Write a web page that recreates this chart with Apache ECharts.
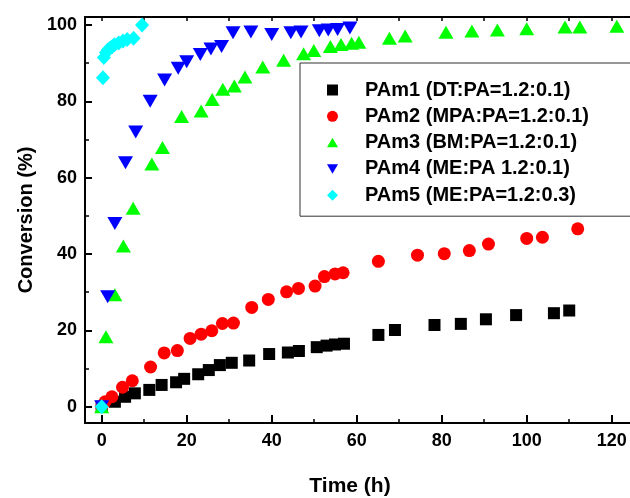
<!DOCTYPE html>
<html>
<head>
<meta charset="utf-8">
<script src="https://cdn.jsdelivr.net/npm/echarts@6/dist/echarts.min.js"></script>
<style>
  html, body { margin: 0; padding: 0; background: #fff; }
  #chart { width: 630px; height: 498px; }
</style>
</head>
<body>
<div id="chart"></div>
<script>
// Conversion (%) versus reaction time (h) for five PAm formulations
const seriesNames = [
  'PAm1 (DT:PA=1.2:0.1)',
  'PAm2 (MPA:PA=1.2:0.1)',
  'PAm3 (BM:PA=1.2:0.1)',
  'PAm4 (ME:PA 1.2:0.1)',
  'PAm5 (ME:PA=1.2:0.3)'
];

const pam1Time = [0, 3.1, 5.5, 7.8, 11.2, 14.1, 17.5, 19.4, 22.7, 25.2, 27.8, 30.6, 34.7, 39.4, 43.8, 46.4, 50.6, 52.9, 54.9, 57.0, 65.1, 69.0, 78.3, 84.5, 90.4, 97.5, 106.4, 110.0];
const pam1Conv = [0, 1.3, 2.6, 3.5, 4.4, 5.7, 6.4, 7.3, 8.5, 9.6, 10.9, 11.5, 12.1, 13.8, 14.2, 14.6, 15.6, 16.0, 16.3, 16.5, 18.8, 20.1, 21.4, 21.7, 22.9, 24.0, 24.5, 25.2];

const pam2Time = [0, 0.8, 2.4, 4.9, 7.2, 11.5, 14.7, 17.8, 20.8, 23.4, 25.9, 28.4, 31.0, 35.3, 39.2, 43.5, 46.3, 50.2, 52.4, 54.9, 56.8, 65.1, 74.3, 80.6, 86.5, 91.0, 100.0, 103.7, 112.0];
const pam2Conv = [0, 1.3, 2.6, 5.1, 6.8, 10.4, 14.1, 14.7, 17.9, 19.0, 19.9, 21.8, 21.9, 26.0, 28.1, 30.1, 31.0, 31.6, 34.1, 34.8, 35.1, 38.1, 39.7, 40.1, 40.9, 42.6, 44.1, 44.4, 46.6];

const pam3Time = [0, 1.0, 3.1, 5.1, 7.4, 11.8, 14.3, 18.8, 23.4, 26.0, 28.5, 31.2, 33.7, 37.9, 42.8, 47.5, 49.9, 53.8, 56.3, 58.8, 60.5, 67.7, 71.4, 81.0, 87.1, 93.1, 100.0, 109.0, 112.5, 121.2];
const pam3Conv = [0, 18.3, 29.3, 42.1, 52.0, 63.6, 67.9, 76.0, 77.5, 80.5, 83.2, 84.0, 86.4, 89.0, 90.8, 92.5, 93.3, 94.4, 94.9, 95.2, 95.5, 96.5, 97.1, 98.1, 98.4, 98.7, 99.0, 99.5, 99.5, 99.7];

const pam4Time = [0, 1.4, 3.1, 5.6, 8.0, 11.4, 14.8, 18.0, 20.0, 23.2, 25.7, 28.2, 30.9, 35.1, 40.0, 44.5, 46.9, 51.2, 53.3, 55.5, 58.4];
const pam4Conv = [0, 28.8, 48.0, 63.9, 72.0, 80.0, 85.6, 88.7, 90.4, 92.3, 93.7, 94.4, 98.0, 98.2, 97.5, 98.0, 98.2, 98.5, 98.7, 98.8, 99.2];

const pam5Time = [0, 0.3, 0.5, 1.0, 1.5, 2.0, 2.5, 3.0, 4.0, 5.0, 6.0, 7.5, 9.5];
const pam5Conv = [0, 86.2, 91.5, 92.8, 93.5, 94.0, 94.4, 94.8, 95.3, 95.8, 96.2, 96.5, 100.0];

const xMajorTicks = [0, 20, 40, 60, 80, 100, 120];
const xMinorTicks = [10, 30, 50, 70, 90, 110];
const yMajorTicks = [0, 20, 40, 60, 80, 100];
const yMinorTicks = [10, 30, 50, 70, 90];

const FONT = '"Liberation Sans", Arial, Helvetica, sans-serif';
const X_MIN = -3.93, X_MAX = 124.3;
const Y_MIN = -4.27, Y_MAX = 102.1;

const pairs = (xs, ys) => xs.map((x, i) => [x, ys[i]]);

const downTriangle = 'path://M0,0L2,0L1,1.732Z';
const upTriangle = 'path://M1,0L2,1.732L0,1.732Z';

const markers = [
  { symbol: 'rect', size: 12, legendSize: 10, color: '#000000', data: pairs(pam1Time, pam1Conv) },
  { symbol: 'circle', size: 13, legendSize: 11, color: '#ff0000', data: pairs(pam2Time, pam2Conv) },
  { symbol: 'triangle', legendIcon: upTriangle, size: [15, 13], color: '#00ff00', data: pairs(pam3Time, pam3Conv) },
  { symbol: downTriangle, size: [15, 13], color: '#0000ff', data: pairs(pam4Time, pam4Conv) },
  { symbol: 'diamond', size: [14, 15], color: '#00ffff', data: pairs(pam5Time, pam5Conv) }
];

const axisLineStyle = { color: '#000', width: 2 };

const chart = echarts.init(document.getElementById('chart'), null, { renderer: 'canvas' });

chart.setOption({
  animation: false,
  backgroundColor: '#ffffff',
  grid: { left: 85, right: 0, top: 17, bottom: 75, containLabel: false, outerBoundsMode: 'none' },
  legend: {
    orient: 'vertical',
    left: 300,
    top: 63,
    padding: [17, 80, 11, 27],
    itemWidth: 11,
    itemHeight: 11,
    itemGap: 6.3,
    symbolKeepAspect: true,
    borderColor: '#333',
    borderWidth: 1,
    borderRadius: 0,
    backgroundColor: '#ffffff',
    selectedMode: false,
    textStyle: { fontFamily: FONT, fontWeight: 'bold', fontSize: 20, lineHeight: 20, color: '#000', padding: [0, 0, 0, 22] },
    data: seriesNames.map((name, i) => ({
      name: name,
      icon: markers[i].legendIcon || markers[i].symbol
    }))
  },
  xAxis: [
    {
      type: 'value', position: 'bottom', min: X_MIN, max: X_MAX,
      axisLine: { show: true, onZero: false, lineStyle: axisLineStyle },
      axisTick: { show: true, inside: true, length: 8, lineStyle: { color: '#000', width: 2 }, customValues: xMajorTicks },
      axisLabel: { show: true, customValues: xMajorTicks, margin: 9, fontFamily: FONT, fontWeight: 'bold', fontSize: 18, color: '#000' },
      splitLine: { show: false },
      name: 'Time (h)', nameLocation: 'middle', nameGap: 53,
      nameTextStyle: { fontFamily: FONT, fontWeight: 'bold', fontSize: 21, color: '#000', padding: [0, 15, 0, 0] }
    },
    {
      type: 'value', position: 'bottom', min: X_MIN, max: X_MAX,
      axisLine: { show: false, onZero: false },
      axisTick: { show: true, inside: true, length: 4, lineStyle: { color: '#000', width: 1.5 }, customValues: xMinorTicks },
      axisLabel: { show: false },
      splitLine: { show: false }
    },
    {
      type: 'value', position: 'top', min: X_MIN, max: X_MAX,
      axisLine: { show: true, onZero: false, lineStyle: axisLineStyle },
      axisTick: { show: true, inside: true, length: 4, lineStyle: { color: '#000', width: 1.5 }, customValues: xMajorTicks.concat(xMinorTicks) },
      axisLabel: { show: false },
      splitLine: { show: false }
    }
  ],
  yAxis: [
    {
      type: 'value', position: 'left', min: Y_MIN, max: Y_MAX,
      axisLine: { show: true, onZero: false, lineStyle: axisLineStyle },
      axisTick: { show: true, inside: true, length: 7, lineStyle: { color: '#000', width: 2 }, customValues: yMajorTicks },
      axisLabel: { show: true, customValues: yMajorTicks, margin: 8, fontFamily: FONT, fontWeight: 'bold', fontSize: 18, color: '#000' },
      splitLine: { show: false },
      name: 'Conversion (%)', nameLocation: 'middle', nameGap: 45, nameRotate: 90,
      nameTextStyle: { fontFamily: FONT, fontWeight: 'bold', fontSize: 20, color: '#000' }
    },
    {
      type: 'value', position: 'left', min: Y_MIN, max: Y_MAX,
      axisLine: { show: false, onZero: false },
      axisTick: { show: true, inside: true, length: 4, lineStyle: { color: '#000', width: 1.5 }, customValues: yMinorTicks },
      axisLabel: { show: false },
      splitLine: { show: false }
    }
  ],
  series: markers.map((m, i) => ({
    name: seriesNames[i],
    type: 'scatter',
    xAxisIndex: 0,
    yAxisIndex: 0,
    symbol: m.symbol,
    symbolSize: m.size,
    itemStyle: { color: m.color, opacity: 1 },
    emphasis: { disabled: true },
    clip: false,
    data: m.data
  }))
});
</script>
</body>
</html>
